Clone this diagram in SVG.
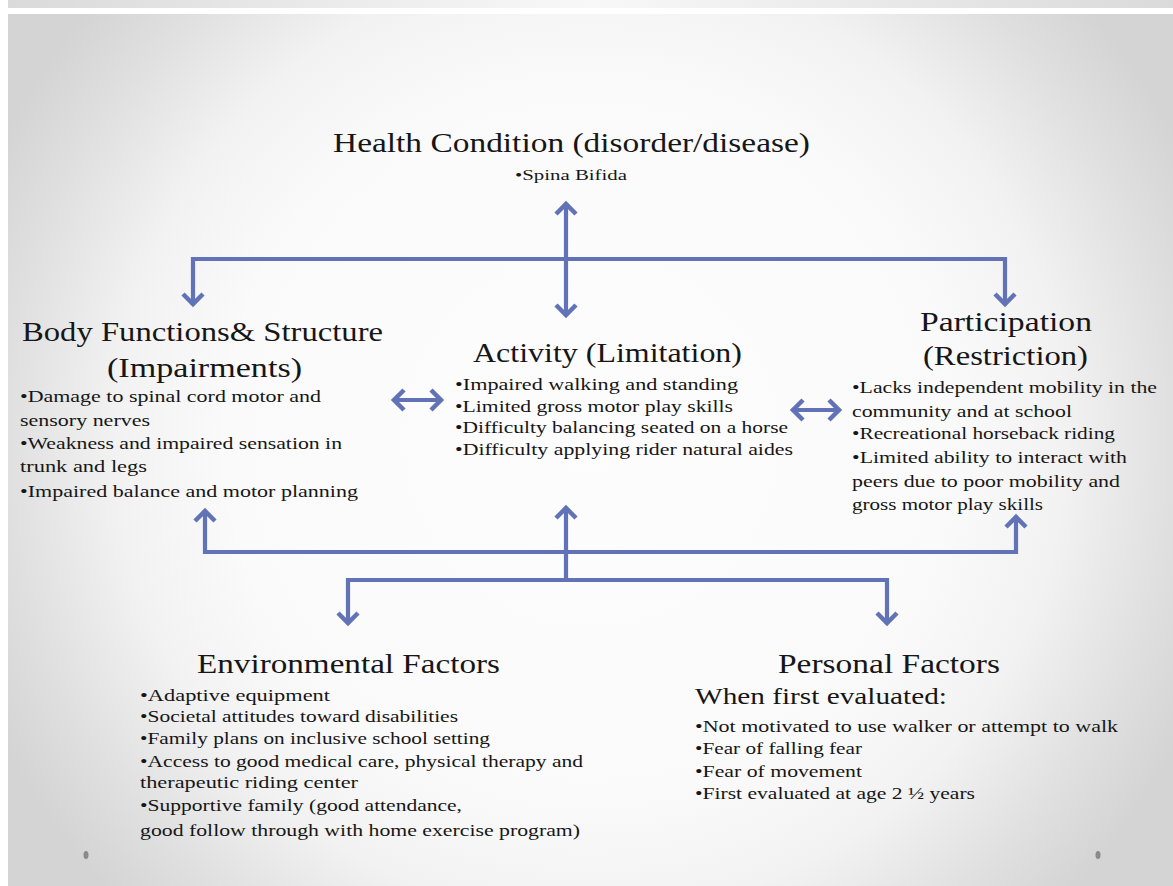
<svg xmlns="http://www.w3.org/2000/svg" width="1173" height="886" viewBox="0 0 1173 886">
<style>
.t{font-family:"Liberation Serif","Times New Roman",serif;fill:#161616}
.h{font-size:28px}
.b{font-size:17px}
.s{font-size:14px}
.w{font-size:23px}
.c{fill:none;stroke:#6172b6;stroke-width:4.2}
</style>
<defs>
<radialGradient id="bg" gradientUnits="userSpaceOnUse" cx="590" cy="440" r="660">
<stop offset="0" stop-color="#fdfdfd"/>
<stop offset="0.55" stop-color="#fafafa"/>
<stop offset="0.72" stop-color="#f2f2f2"/>
<stop offset="0.88" stop-color="#e0e0e0"/>
<stop offset="1" stop-color="#d4d4d4"/>
</radialGradient>
<linearGradient id="strip" x1="0" y1="0" x2="1" y2="0">
<stop offset="0" stop-color="#dadada"/>
<stop offset="0.5" stop-color="#f8f8f8"/>
<stop offset="1" stop-color="#dadada"/>
</linearGradient>
<marker id="ah" markerUnits="userSpaceOnUse" viewBox="-18 -14 22 28" refX="0" refY="0" markerWidth="22" markerHeight="28" orient="auto-start-reverse">
<path d="M-11,-10 L-1,0 L-11,10" fill="none" stroke="#6172b6" stroke-width="4.5"/>
</marker>
</defs>
<rect width="1173" height="886" fill="#ffffff"/>
<rect x="8" y="0" width="1165" height="8" fill="url(#strip)"/>
<rect x="8" y="14" width="1165" height="872" fill="url(#bg)"/>
<ellipse cx="86" cy="855" rx="2.5" ry="4" fill="#8a8a8a"/>
<ellipse cx="1098" cy="855" rx="2.5" ry="4" fill="#8a8a8a"/>

<g id="connectors">
<path class="c" d="M193,305 L193,259 L1005,259 L1005,305" marker-start="url(#ah)" marker-end="url(#ah)"/>
<path class="c" d="M566,203 L566,316" marker-start="url(#ah)" marker-end="url(#ah)"/>
<path class="c" d="M393,400 L442,400" marker-start="url(#ah)" marker-end="url(#ah)"/>
<path class="c" d="M792,410 L840,410" marker-start="url(#ah)" marker-end="url(#ah)"/>
<path class="c" d="M205,510 L205,552 L1016,552 L1016,516" marker-start="url(#ah)" marker-end="url(#ah)"/>
<path class="c" d="M566,580 L566,507" marker-end="url(#ah)"/>
<path class="c" d="M348,624 L348,580 L887,580 L887,624" marker-start="url(#ah)" marker-end="url(#ah)"/>
</g>

<g id="health">
<text class="t h" x="333" y="152" textLength="477" lengthAdjust="spacingAndGlyphs">Health Condition (disorder/disease)</text>
<text class="t s" x="515" y="180" textLength="112" lengthAdjust="spacingAndGlyphs">•Spina Bifida</text>
</g>

<g id="body">
<text class="t h" x="22" y="341" textLength="361" lengthAdjust="spacingAndGlyphs">Body Functions&amp; Structure</text>
<text class="t h" x="107" y="377" textLength="195" lengthAdjust="spacingAndGlyphs">(Impairments)</text>
<text class="t b" x="20" y="402" textLength="301" lengthAdjust="spacingAndGlyphs">•Damage  to spinal cord motor and</text>
<text class="t b" x="20" y="426" textLength="130" lengthAdjust="spacingAndGlyphs">sensory nerves</text>
<text class="t b" x="20" y="449" textLength="322" lengthAdjust="spacingAndGlyphs">•Weakness and impaired sensation in</text>
<text class="t b" x="20" y="472" textLength="127" lengthAdjust="spacingAndGlyphs">trunk and legs</text>
<text class="t b" x="20" y="497" textLength="338" lengthAdjust="spacingAndGlyphs">•Impaired balance and motor planning</text>
</g>

<g id="activity">
<text class="t h" x="473" y="362" textLength="269" lengthAdjust="spacingAndGlyphs">Activity (Limitation)</text>
<text class="t b" x="455" y="390" textLength="283" lengthAdjust="spacingAndGlyphs">•Impaired walking and standing</text>
<text class="t b" x="455" y="412" textLength="278" lengthAdjust="spacingAndGlyphs">•Limited  gross  motor play skills</text>
<text class="t b" x="455" y="433" textLength="333" lengthAdjust="spacingAndGlyphs">•Difficulty balancing seated on a horse</text>
<text class="t b" x="455" y="455" textLength="338" lengthAdjust="spacingAndGlyphs">•Difficulty applying rider natural aides</text>
</g>

<g id="participation">
<text class="t h" x="920" y="331" textLength="172" lengthAdjust="spacingAndGlyphs">Participation</text>
<text class="t h" x="923" y="365" textLength="165" lengthAdjust="spacingAndGlyphs">(Restriction)</text>
<text class="t b" x="852" y="393" textLength="305" lengthAdjust="spacingAndGlyphs">•Lacks independent mobility in the</text>
<text class="t b" x="852" y="417" textLength="220" lengthAdjust="spacingAndGlyphs">community and at school</text>
<text class="t b" x="852" y="439" textLength="263" lengthAdjust="spacingAndGlyphs">•Recreational horseback riding</text>
<text class="t b" x="852" y="463" textLength="275" lengthAdjust="spacingAndGlyphs">•Limited ability to interact with</text>
<text class="t b" x="852" y="487" textLength="268" lengthAdjust="spacingAndGlyphs">peers due to poor mobility  and</text>
<text class="t b" x="852" y="510" textLength="191" lengthAdjust="spacingAndGlyphs">gross  motor play skills</text>
</g>

<g id="environmental">
<text class="t h" x="197" y="673" textLength="303" lengthAdjust="spacingAndGlyphs">Environmental Factors</text>
<text class="t b" x="140" y="701" textLength="190" lengthAdjust="spacingAndGlyphs">•Adaptive equipment</text>
<text class="t b" x="140" y="722" textLength="318" lengthAdjust="spacingAndGlyphs">•Societal attitudes toward disabilities</text>
<text class="t b" x="140" y="744" textLength="350" lengthAdjust="spacingAndGlyphs">•Family  plans on inclusive school setting</text>
<text class="t b" x="140" y="767" textLength="443" lengthAdjust="spacingAndGlyphs">•Access to good  medical care, physical therapy and</text>
<text class="t b" x="140" y="788" textLength="218" lengthAdjust="spacingAndGlyphs">therapeutic riding center</text>
<text class="t b" x="140" y="811" textLength="322" lengthAdjust="spacingAndGlyphs">•Supportive family (good  attendance,</text>
<text class="t b" x="140" y="836" textLength="440" lengthAdjust="spacingAndGlyphs">good  follow  through with home exercise program)</text>
</g>

<g id="personal">
<text class="t h" x="778" y="673" textLength="222" lengthAdjust="spacingAndGlyphs">Personal Factors</text>
<text class="t w" x="695" y="704" textLength="252" lengthAdjust="spacingAndGlyphs">When first  evaluated:</text>
<text class="t b" x="695" y="732" textLength="423" lengthAdjust="spacingAndGlyphs">•Not motivated to use walker or attempt to walk</text>
<text class="t b" x="695" y="754" textLength="167" lengthAdjust="spacingAndGlyphs">•Fear of falling fear</text>
<text class="t b" x="695" y="777" textLength="167" lengthAdjust="spacingAndGlyphs">•Fear of movement</text>
<text class="t b" x="695" y="799" textLength="280" lengthAdjust="spacingAndGlyphs">•First evaluated at age 2 ½ years</text>
</g>
</svg>
